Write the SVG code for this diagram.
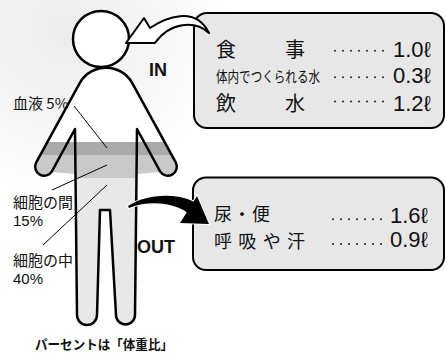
<svg xmlns="http://www.w3.org/2000/svg" width="446" height="353" viewBox="0 0 446 353">
  <defs>
    <radialGradient id="haze" cx="60" cy="30" r="170" gradientUnits="userSpaceOnUse">
      <stop offset="0" stop-color="#ececec"/>
      <stop offset="1" stop-color="#ffffff"/>
    </radialGradient>
    <path id="silhouette" d="M80,82.7 A30,30 0 0 1 132,82.7 L175.9,162.7 A9,9 0 0 1 160.1,171.3 L137,129 L135,315 A9.5,9.5 0 0 1 116,315 L110,210 L100,210 L97,315 A10,10 0 0 1 77,315 L75,129 L51.9,171.3 A9,9 0 0 1 36.1,162.7 Z"/>
    <!-- body area used for the water levels: silhouette plus the armpit gaps -->
    <clipPath id="bodyArea">
      <use href="#silhouette"/>
      <polygon points="75,128 51,172 75,174"/>
      <polygon points="137,128 161,172 137,174"/>
    </clipPath>
  </defs>
  <style>
    .outline { fill: none; stroke: #000; stroke-width: 2.5; stroke-linejoin: round; }
    .lbl { font-family: "Noto Sans CJK JP", "Noto Sans", sans-serif; font-size: 15px; fill: #111; }
    .num { font-family: "Liberation Sans", "Noto Sans", sans-serif; font-size: 15px; fill: #111; }
    .box { fill: #e7e7e7; stroke: #000; stroke-width: 2; }
    .row { font-family: "Noto Sans CJK JP", sans-serif; font-size: 20px; fill: #111; }
    .row2 { font-family: "Noto Sans CJK JP", sans-serif; font-size: 18px; fill: #111; }
    .small { font-family: "Noto Sans CJK JP", sans-serif; font-size: 15px; fill: #111; }
    .val { font-family: "Liberation Sans", "DejaVu Sans", sans-serif; font-size: 22px; fill: #111; }
    .dots { fill: none; stroke: #222; stroke-width: 2; stroke-linecap: round; stroke-dasharray: 0 8; }
    .leader { stroke: #000; stroke-width: 1; fill: none; }
    .tag { font-family: "Liberation Sans", "Noto Sans", sans-serif; font-weight: bold; font-size: 18px; fill: #111; }
  </style>

  <rect x="0" y="0" width="446" height="353" fill="url(#haze)"/>

  <!-- human figure with water levels -->
  <g id="figure">
    <use href="#silhouette" fill="#fff"/>
    <g clip-path="url(#bodyArea)">
      <rect x="20" y="142" width="180" height="13" fill="#a9a9a9"/>
      <rect x="20" y="155" width="180" height="23" fill="#c9c9c9"/>
      <rect x="20" y="178" width="180" height="160" fill="#e8e8e8"/>
    </g>
    <use href="#silhouette" class="outline"/>
    <circle cx="101" cy="39" r="28" fill="#fff" stroke="#000" stroke-width="2.5"/>
  </g>

  <!-- percentage labels -->
  <g id="label-blood">
    <text class="lbl" x="13" y="109">血液 5%</text>
  </g>
  <g id="label-between">
    <text class="lbl" x="13" y="207.5">細胞の間</text>
    <text class="num" x="13" y="225.5">15%</text>
  </g>
  <g id="label-inside">
    <text class="lbl" x="13" y="266">細胞の中</text>
    <text class="num" x="13" y="284">40%</text>
  </g>
  <g id="caption">
    <text x="35" y="349" font-family="Noto Sans CJK JP, sans-serif" font-weight="bold" font-size="13" fill="#111" textLength="138" lengthAdjust="spacingAndGlyphs">パーセントは「体重比」</text>
  </g>

  <!-- intake box -->
  <g id="in-box">
    <rect class="box" x="194" y="13" width="250" height="115" rx="13"/>
    <text class="row" x="216" y="57" textLength="89" lengthAdjust="spacing">食　　事</text>
    <text class="small" x="216" y="82" textLength="104" lengthAdjust="spacingAndGlyphs">体内でつくられる水</text>
    <text class="row" x="216" y="111" textLength="89" lengthAdjust="spacing">飲　　水</text>
    <path class="dots" d="M335,50.7 h49"/>
    <path class="dots" d="M335,77.3 h49"/>
    <path class="dots" d="M335,101.5 h49"/>
    <text class="val" x="393" y="56.7">1.0ℓ</text>
    <text class="val" x="393" y="83">0.3ℓ</text>
    <text class="val" x="393" y="110.7">1.2ℓ</text>
  </g>

  <!-- output box -->
  <g id="out-box">
    <rect class="box" x="193" y="177.5" width="251" height="92.5" rx="13"/>
    <text class="row2" x="214" y="221" textLength="56" lengthAdjust="spacing">尿・便</text>
    <text class="row2" x="214" y="247.5" textLength="91" lengthAdjust="spacing">呼吸や汗</text>
    <path class="dots" d="M333,219.3 h49"/>
    <path class="dots" d="M333,244 h49"/>
    <text class="val" x="390" y="222.7">1.6ℓ</text>
    <text class="val" x="390" y="247.3">0.9ℓ</text>
  </g>

  <!-- connectors -->
  <g id="connectors">
    <line class="leader" x1="74" y1="106" x2="107" y2="148"/>
    <line class="leader" x1="52" y1="190" x2="107" y2="165"/>
    <line class="leader" x1="43" y1="245" x2="107" y2="185"/>
    <path d="M126,43 L144,18 L150,28 C165,18 195,5 209,33 C195,20 170,22 155,43 Z" fill="#fff" stroke="#000" stroke-width="2" stroke-linejoin="round"/>
    <path d="M128,206 C145,195 172,192 193.6,201.4 L197,196 L209,224 L180,223 L186.8,212.2 C172,203 150,200 129,208 Z" fill="#000" stroke="#fff" stroke-width="2" paint-order="stroke"/>
  </g>

  <g id="tag-in"><text class="tag" x="149" y="76">IN</text></g>
  <g id="tag-out"><text class="tag" x="137" y="252.5">OUT</text></g>
</svg>
